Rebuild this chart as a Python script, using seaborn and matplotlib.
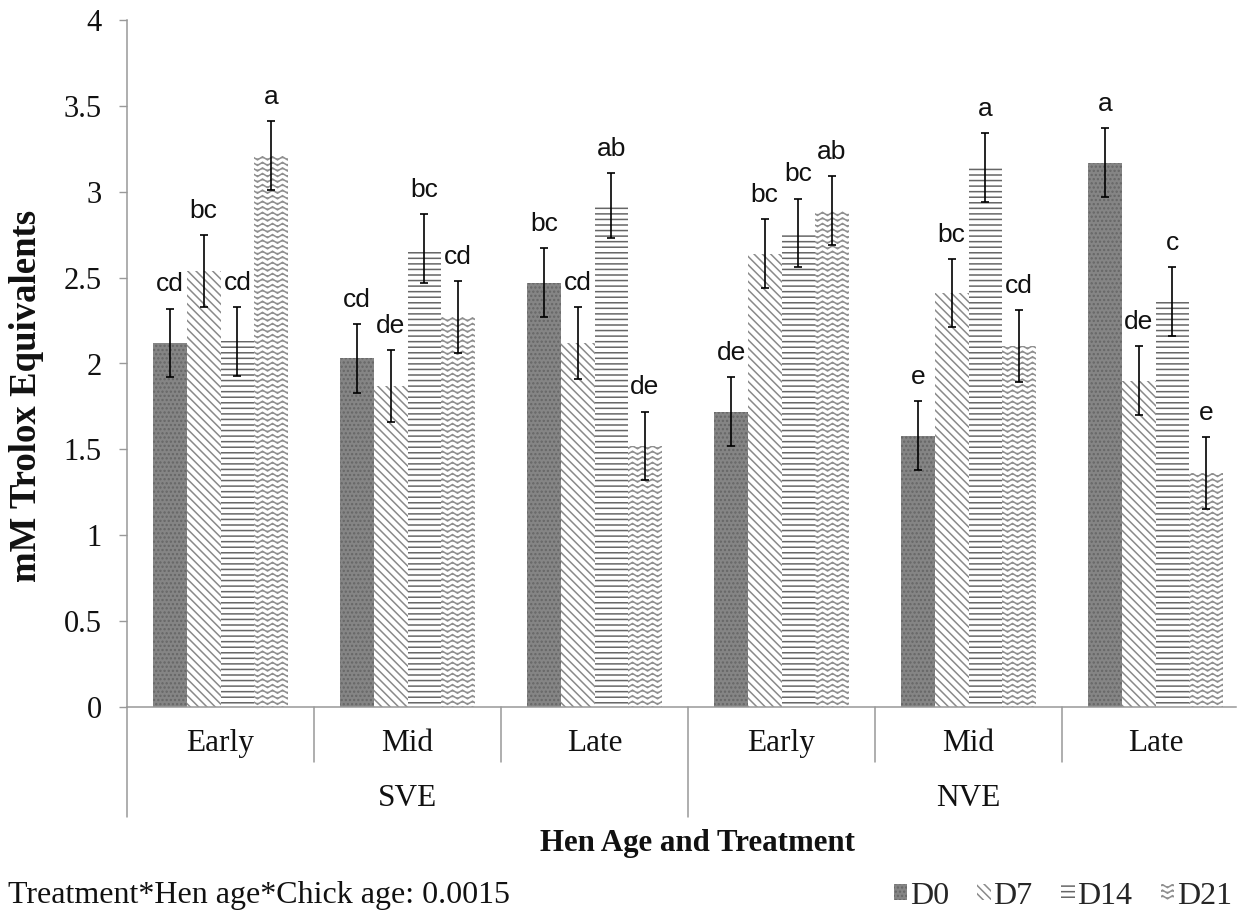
import warnings
warnings.filterwarnings("ignore")
import numpy as np
import pandas as pd
import matplotlib
matplotlib.use("Agg")
import matplotlib.pyplot as plt
import matplotlib.hatch as mhatch
import matplotlib.transforms as mtrans
from matplotlib.path import Path
from matplotlib.patches import Patch
from matplotlib.lines import Line2D
import seaborn as sns

# ---------------- data ----------------
treatments = ["SVE", "SVE", "SVE", "NVE", "NVE", "NVE"]
hen_ages = ["Early", "Mid", "Late", "Early", "Mid", "Late"]
days = ["D0", "D7", "D14", "D21"]

d0 = [2.12, 2.03, 2.47, 1.72, 1.58, 3.17]
d7 = [2.54, 1.87, 2.12, 2.64, 2.41, 1.90]
d14 = [2.13, 2.67, 2.92, 2.76, 3.14, 2.36]
d21 = [3.21, 2.27, 1.52, 2.89, 2.10, 1.36]

se_d0 = [0.20, 0.20, 0.20, 0.20, 0.20, 0.20]
se_d7 = [0.21, 0.21, 0.21, 0.20, 0.20, 0.20]
se_d14 = [0.20, 0.20, 0.19, 0.20, 0.20, 0.20]
se_d21 = [0.20, 0.21, 0.20, 0.20, 0.21, 0.21]

let_d0 = ["cd", "cd", "bc", "de", "e", "a"]
let_d7 = ["bc", "de", "cd", "bc", "bc", "de"]
let_d14 = ["cd", "bc", "ab", "bc", "a", "c"]
let_d21 = ["a", "cd", "de", "ab", "cd", "e"]

footnote = "Treatment*Hen age*Chick age: 0.0015"
y_ticks = [0, 0.5, 1, 1.5, 2, 2.5, 3, 3.5, 4]
y_ticklabels = ["0", "0.5", "1", "1.5", "2", "2.5", "3", "3.5", "4"]

values = [d0, d7, d14, d21]
ses = [se_d0, se_d7, se_d14, se_d21]
lets = [let_d0, let_d7, let_d14, let_d21]

groups = [f"{t} {a}" for t, a in zip(treatments, hen_ages)]
rows = []
for di, d in enumerate(days):
    for gi, g in enumerate(groups):
        rows.append({"group": g, "day": d, "value": values[di][gi]})
df = pd.DataFrame(rows)


# ---------------- custom wavy hatch ----------------
class WaveHatch(mhatch.HatchPatternBase):
    def __init__(self, hatch, density):
        self.num_lines = int(hatch.count("~") * density)
        self.npts = 41
        self.num_vertices = self.num_lines * self.npts

    def set_vertices_and_codes(self, vertices, codes):
        if self.num_lines == 0:
            return
        steps, stepsize = np.linspace(0.0, 1.0, self.num_lines, False, retstep=True)
        steps += stepsize / 2.0
        xs = np.linspace(0.0, 1.0, self.npts)
        pattern = np.array([0, 1, 0, -1] * 10 + [0], dtype=float)
        amp = stepsize * 0.28
        for i, s in enumerate(steps):
            sl = slice(i * self.npts, (i + 1) * self.npts)
            vertices[sl, 0] = xs
            vertices[sl, 1] = s + amp * pattern
            codes[sl] = Path.LINETO
            codes[i * self.npts] = Path.MOVETO


if WaveHatch not in mhatch._hatch_types:
    mhatch._hatch_types.append(WaveHatch)

# ---------------- styling ----------------
sns.set_theme(style="white")
plt.rcParams["font.family"] = ["Liberation Serif", "DejaVu Serif"]
plt.rcParams["hatch.linewidth"] = 1.1

styles = {
    "D0": dict(facecolor="#858585", edgecolor="#666666", hatch="...."),
    "D7": dict(facecolor="white", edgecolor="#8a8a8a", hatch="\\\\\\\\"),
    "D14": dict(facecolor="white", edgecolor="#666666", hatch="---"),
    "D21": dict(facecolor="white", edgecolor="#8f8f8f", hatch="~~~"),
}

W, H = 1239, 913
fig = plt.figure(figsize=(W / 100, H / 100), dpi=100)
ax_left, ax_right, ax_top, ax_bot = 127, 1236, 20, 707
ax = fig.add_axes([ax_left / W, 1 - ax_bot / H, (ax_right - ax_left) / W, (ax_bot - ax_top) / H])

sns.barplot(data=df, x="group", y="value", hue="day", order=groups, hue_order=days,
            width=0.72, gap=0, errorbar=None, saturation=1, legend=False,
            palette=["#858585", "white", "white", "white"], ax=ax)

bw = 0.18
for p in ax.patches:
    cx = p.get_x() + p.get_width() / 2
    gi = int(round(cx))
    k = int(round((cx - gi) / bw + 1.5))
    st = styles[days[k]]
    p.set_facecolor(st["facecolor"])
    p.set_edgecolor(st["edgecolor"])
    p.set_hatch(st["hatch"])
    p.set_linewidth(0)
    h = p.get_height()
    se = ses[k][gi]
    ax.errorbar(cx, h, yerr=se, fmt="none", ecolor="black", elinewidth=1.2,
                capsize=2.8, capthick=1.2, zorder=5)
    ax.text(cx, h + se + 0.1, lets[k][gi], ha="center", va="baseline",
            fontsize=19, family=["Liberation Sans", "DejaVu Sans"], color="#111111")

ax.set_xlim(-0.5, -0.5 + (ax_right - ax_left) / 187.0)
ax.set_ylim(0, 4)
ax.set_yticks(y_ticks)
ax.set_yticklabels(y_ticklabels)
ax.set_xticks([])
ax.set_xlabel("")
ax.set_ylabel("")
axh = ax_bot - ax_top
ax.tick_params(axis="y", which="major", left=True, length=6, width=1, color="#999999",
               pad=12, labelsize=22, labelcolor="#111111")

for s in ["top", "right"]:
    ax.spines[s].set_visible(False)
for s in ["left", "bottom"]:
    ax.spines[s].set_color("#999999")
    ax.spines[s].set_linewidth(1.1)

# two-level category axis
trans = mtrans.blended_transform_factory(ax.transData, ax.transAxes)
y_age = -(743 - ax_bot) / axh
y_trt = -(798 - ax_bot) / axh
y_short = -(762 - ax_bot) / axh
y_long = -(817 - ax_bot) / axh
for gi, a in enumerate(hen_ages):
    ax.text(gi, y_age, a, transform=trans, ha="center", va="center", fontsize=22.5, color="#111111")
for b in [0.5, 1.5, 3.5, 4.5]:
    ax.add_line(Line2D([b, b], [0, y_short], transform=trans, color="#999999", lw=1.1, clip_on=False))
for b in [-0.5, 2.5, 5.5]:
    ax.add_line(Line2D([b, b], [0, y_long], transform=trans, color="#999999", lw=1.1, clip_on=False))
trt_levels = ["SVE", "NVE"]
for ti, t in enumerate(trt_levels):
    idx = [i for i, tt in enumerate(treatments) if tt == t]
    ax.text(np.mean(idx), y_trt, t, transform=trans, ha="center", va="center", fontsize=22.5, color="#111111")

fig.text(27 / W, 1 - 396 / H, "mM Trolox Equivalents", rotation=90, ha="center", va="center",
         fontsize=26.5, fontweight="bold", color="#111111")
fig.text(697 / W, 1 - 843 / H, "Hen Age and Treatment", ha="center", va="center",
         fontsize=22.2, fontweight="bold", color="#111111")
fig.text(8 / W, 1 - 895 / H, footnote, ha="left", va="center", fontsize=23, color="#111111")

handles = [Patch(facecolor=styles[d]["facecolor"], edgecolor=styles[d]["edgecolor"],
                 hatch=styles[d]["hatch"], linewidth=0, label=d) for d in days]
fig.legend(handles=handles, loc="center right", bbox_to_anchor=(1232 / W, 1 - 896 / H),
           ncol=4, frameon=False, fontsize=23, handlelength=0.42, handleheight=0.42,
           handletextpad=0.08, columnspacing=0.9, borderpad=0, borderaxespad=0)

fig.savefig("out.png", dpi=100, facecolor="white")
